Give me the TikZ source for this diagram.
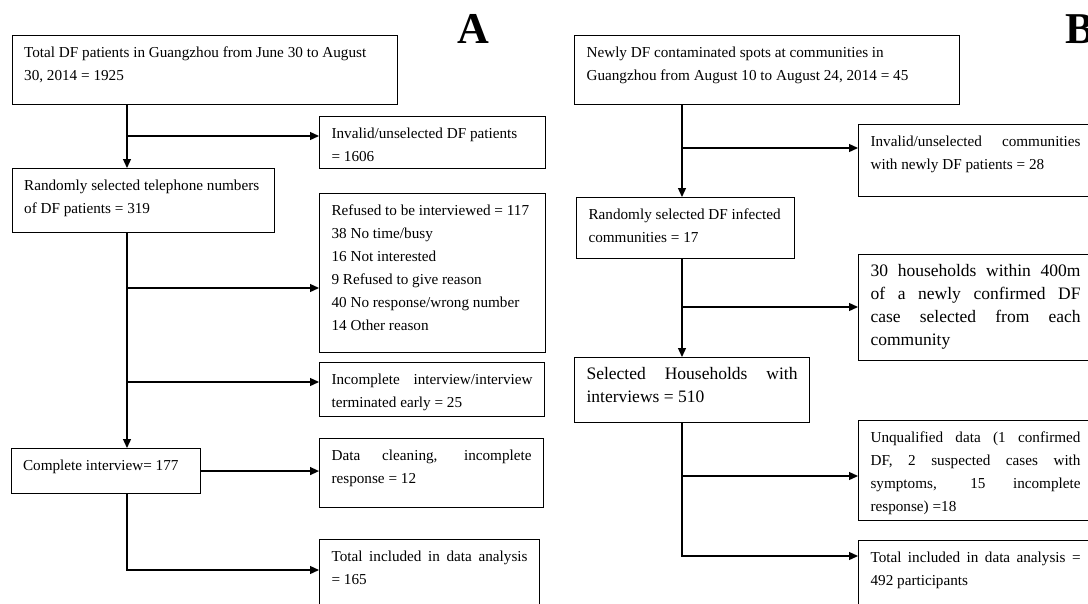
\documentclass[tikz,border=0pt]{standalone}
\usepackage{fontspec}
\setmainfont{Liberation Serif}
\usetikzlibrary{arrows.meta}
\hbadness=10000 \hfuzz=200pt \vbadness=10000 \vfuzz=200pt
\newcommand{\jl}[1]{\makebox[\linewidth][s]{#1}}
\newcommand{\bt}[3]{\parbox[c][#1pt][t]{#2pt}{\rule{0pt}{22pt}#3}}
\tikzset{
  box/.style={draw, line width=1.1pt, inner xsep=12pt, inner ysep=0pt, anchor=north west,
    font=\fontsize{15.2}{23}\selectfont},
  bigbox/.style={box, font=\fontsize{17.5}{23}\selectfont},
  arr/.style={-{Triangle[length=9pt,width=8pt]}, line width=1.3pt},
  lbl/.style={font=\fontsize{44}{44}\selectfont\bfseries, inner sep=0pt}
}
\begin{document}
\begin{tikzpicture}[x=1pt, y=-1pt]
\useasboundingbox (0,0) rectangle (1088,603);
\clip (0,0) rectangle (1088,603);
% ---------- Panel A ----------
\node[lbl] (la) at (473,29) {A};
\node[box] (a1) at (11.6,35) {\bt{69}{361}{Total DF patients in Guangzhou from June 30 to August\\30, 2014 = 1925}};
\node[box] (a2) at (319,116) {\bt{52}{202}{Invalid/unselected DF patients\\= 1606}};
\node[box] (a3) at (11.6,168) {\bt{64}{238}{Randomly selected telephone numbers\\of DF patients = 319}};
\node[box] (a4) at (319,193) {\bt{159}{202}{Refused to be interviewed = 117\\38 No time/busy\\16 Not interested\\9 Refused to give reason\\40 No response/wrong number\\14 Other reason}};
\node[box] (a5) at (319,362) {\bt{54}{201}{\jl{Incomplete interview/interview}\\terminated early = 25}};
\node[box] (a6) at (10.5,448) {\bt{45}{165}{Complete interview= 177}};
\node[box] (a7) at (319,438) {\bt{69}{200}{\jl{Data cleaning, incomplete}\\response = 12}};
\node[box] (a8) at (319,539) {\bt{80}{196}{\jl{Total included in data analysis}\\= 165}};
\coordinate (ja1) at (127,136);
\coordinate (ja2) at (127,288);
\coordinate (ja3) at (127,382);
\coordinate (ja4) at (127,570);
\draw[arr] (a1.south -| ja1) -- (a3.north -| ja1);
\draw[arr] (ja1) -- (ja1 -| a2.west);
\draw[arr] (a3.south -| ja2) -- (a6.north -| ja2);
\draw[arr] (ja2) -- (ja2 -| a4.west);
\draw[arr] (ja3) -- (ja3 -| a5.west);
\draw[arr] (a6.east) -- (a6.east -| a7.west);
\draw[arr] (a6.south -| ja4) -- (ja4) -- (ja4 -| a8.west);
% ---------- Panel B ----------
\node[lbl] (lb) at (1080,29) {B};
\node[box] (b1) at (574,35) {\bt{69}{361}{Newly DF contaminated spots at communities in\\Guangzhou from August 10 to August 24, 2014 = 45}};
\node[box] (b2) at (858,124) {\bt{72}{210}{\jl{Invalid/unselected communities}\\with newly DF patients = 28}};
\node[box] (b3) at (576,197) {\bt{61}{194}{Randomly selected DF infected\\communities = 17}};
\node[bigbox] (b4) at (858,254) {\bt{106}{210}{\jl{30 households within 400m}\\\jl{of a newly confirmed DF}\\\jl{case selected from each}\\community}};
\node[bigbox] (b5) at (574,357) {\bt{65}{211}{\jl{Selected Households with}\\interviews = 510}};
\node[box] (b6) at (858,420) {\bt{100}{210}{\jl{Unqualified data (1 confirmed}\\\jl{DF, 2 suspected cases with}\\\jl{symptoms, 15 incomplete}\\response) =18}};
\node[box] (b7) at (858,540) {\bt{80}{210}{\jl{Total included in data analysis =}\\492 participants}};
\coordinate (jb1) at (682,148);
\coordinate (jb2) at (682,307);
\coordinate (jb3) at (682,476);
\coordinate (jb4) at (682,556);
\draw[arr] (b1.south -| jb1) -- (b3.north -| jb1);
\draw[arr] (jb1) -- (jb1 -| b2.west);
\draw[arr] (b3.south -| jb2) -- (b5.north -| jb2);
\draw[arr] (jb2) -- (jb2 -| b4.west);
\draw[arr] (jb3) -- (jb3 -| b6.west);
\draw[arr] (b5.south -| jb4) -- (jb4) -- (jb4 -| b7.west);
\end{tikzpicture}
\end{document}
